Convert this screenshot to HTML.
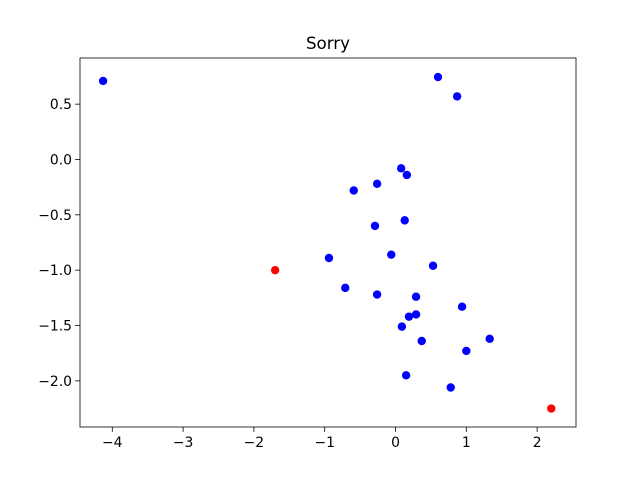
<!DOCTYPE html>
<html><head><meta charset="utf-8"><style>body{margin:0;background:#fff}svg{display:block;font-family:"DejaVu Sans","Liberation Sans",sans-serif}</style></head>
<body>
<svg id="chart" width="640" height="480"></svg>
<script>
const blueX=[-4.13,0.60,0.87,0.08,0.16,-0.26,-0.59,0.13,-0.29,-0.06,-0.94,0.53,-0.71,-0.26,0.29,0.94,0.29,0.19,0.09,0.37,1.33,1.00,0.15,0.78];
const blueY=[0.71,0.745,0.57,-0.08,-0.14,-0.22,-0.28,-0.55,-0.60,-0.86,-0.89,-0.96,-1.16,-1.22,-1.24,-1.33,-1.40,-1.42,-1.51,-1.64,-1.62,-1.73,-1.95,-2.06];
const redX=[-1.70,2.20];
const redY=[-1.00,-2.25];
const xTicks=[-4,-3,-2,-1,0,1,2];
const yTicks=[0.5,0.0,-0.5,-1.0,-1.5,-2.0];
const L=80,R=576,T=58,B=427,xmin=-4.456,xmax=2.549,ymin=-2.417,ymax=0.917;
const sx=v=>L+(v-xmin)/(xmax-xmin)*(R-L);
const sy=v=>B-(v-ymin)/(ymax-ymin)*(B-T);
const svg=document.getElementById('chart');
const NS='http://www.w3.org/2000/svg';
function mk(t,a){const e=document.createElementNS(NS,t);for(const k in a)e.setAttribute(k,a[k]);svg.appendChild(e);return e;}
let t=mk('text',{x:328,y:49,'text-anchor':'middle','font-size':16.7});t.textContent='Sorry';


xTicks.forEach(v=>{const x=sx(v);
 const l=mk('line',{x1:x,x2:x,y1:B,y2:B+4.9,stroke:'#000','stroke-width':0.8});
 
 
 const tx=mk('text',{x:x,y:B+20,'text-anchor':'middle','font-size':13.9});tx.textContent=(v<0?'\u2212'+(-v):v);
 
 });
yTicks.forEach(v=>{const y=sy(v);
 const l=mk('line',{x1:L-4.9,x2:L,y1:y,y2:y,stroke:'#000','stroke-width':0.8});
 
 
 const s=v.toFixed(1);
 const tx=mk('text',{x:L-8,y:y+5,'text-anchor':'end','font-size':13.9});tx.textContent=s.replace('-','\u2212');
 
 });
blueX.forEach((v,i)=>{const c=mk('circle',{cx:sx(v),cy:sy(blueY[i]),r:4.2,fill:'#0000ff'});
 
 });
redX.forEach((v,i)=>{const c=mk('circle',{cx:sx(v),cy:sy(redY[i]),r:4.2,fill:'#ff0000'});
 
 });
const f=mk('rect',{x:L,y:T,width:R-L,height:B-T,fill:'none',stroke:'#000','stroke-width':0.8});


</script>
</body></html>
